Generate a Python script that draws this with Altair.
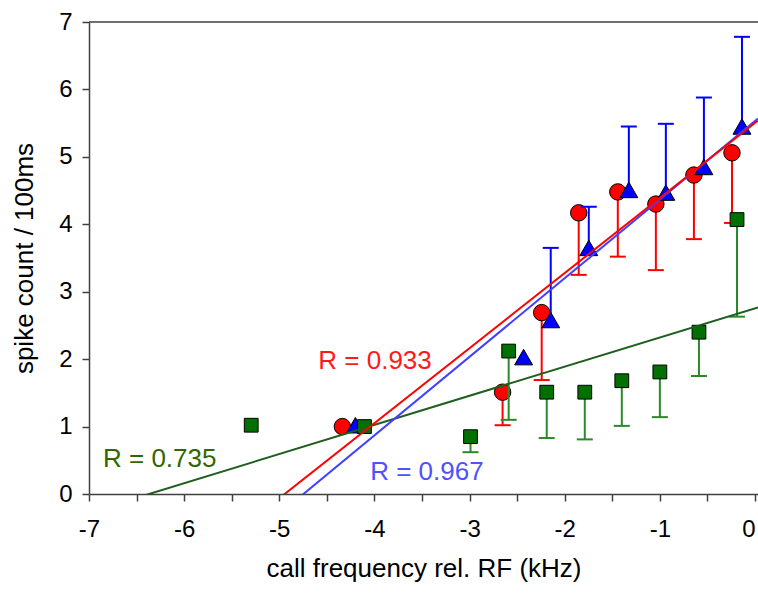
import altair as alt
import pandas as pd

# ---- data ----
red_x = [-4.337, -2.653, -2.242, -1.853, -1.442, -1.042, -0.642, -0.242]
red_y = [1.00, 1.51, 2.69, 4.17, 4.48, 4.30, 4.73, 5.06]
red_err = [None, 1.02, 1.69, 3.25, 3.52, 3.32, 3.78, 4.02]

blue_x = [-4.200, -2.432, -2.147, -1.747, -1.326, -0.937, -0.537, -0.137]
blue_y = [1.02, 2.03, 2.58, 3.65, 4.51, 4.47, 4.85, 5.45]
blue_err = [None, None, 3.65, 4.26, 5.45, 5.49, 5.88, 6.78]

green_x = [-5.295, -4.105, -2.990, -2.589, -2.189, -1.789, -1.400, -1.000, -0.589, -0.189]
green_y = [1.02, 1.00, 0.85, 2.12, 1.51, 1.51, 1.68, 1.81, 2.40, 4.07]
green_err = [None, None, 0.62, 1.10, 0.83, 0.81, 1.01, 1.14, 1.75, 2.63]

ann_text = ["R = 0.933", "R = 0.967", "R = 0.735"]
ann_x = [-4.59, -4.045, -6.853]
ann_y = [1.854, 0.208, 0.40]
ann_color = ["#ff1a1a", "#5050ff", "#336600"]

x_tick_values = [-7, -6.5, -6, -5.5, -5, -4.5, -4, -3.5, -3, -2.5, -2, -1.5, -1, -0.5, 0]
y_tick_values = [0, 1, 2, 3, 4, 5, 6, 7]
X_MIN, X_MAX = -7, 0.0315
Y_MIN, Y_MAX = 0, 7

W, H = 669, 472
FONT = "Liberation Sans"

xscale = alt.Scale(domain=[X_MIN, X_MAX], nice=False, zero=False)
yscale = alt.Scale(domain=[Y_MIN, Y_MAX], nice=False, zero=False)

xaxis = alt.Axis(values=x_tick_values,
                 labelExpr="datum.value % 1 == 0 ? toString(datum.value) : ''",
                 labelAlign=alt.ExprRef("datum.value == 0 ? 'right' : 'center'"),
                 labelFlush=False, labelOverlap=False, labelPadding=16,
                 titlePadding=14, grid=False)
yaxis = alt.Axis(values=y_tick_values, labelPadding=10, titlePadding=21, grid=False)

XT = "call frequency rel. RF (kHz)"
YT = "spike count / 100ms"


def X(field="x"):
    return alt.X(f"{field}:Q", scale=xscale, axis=xaxis, title=XT)


def Y(field="y"):
    return alt.Y(f"{field}:Q", scale=yscale, axis=yaxis, title=YT)


def series_layers(xs, ys, errs, bar_color, pt_fill, shape, size):
    df = pd.DataFrame({"x": xs, "y": ys, "err": errs})
    base = alt.Chart(df)
    bars = base.transform_filter("isValid(datum.err)").mark_rule(
        color=bar_color, strokeWidth=2).encode(x=X(), y=Y(), y2="err:Q")
    caps = base.transform_filter("isValid(datum.err)").mark_tick(
        orient="horizontal", size=16, thickness=2, color=bar_color, opacity=1
    ).encode(x=X(), y=Y("err"))
    pts = base.mark_point(shape=shape, filled=True, fill=pt_fill, stroke="black",
                          strokeWidth=1, size=size, opacity=1).encode(x=X(), y=Y())
    return [bars, caps, pts], df


red_layers, red_df = series_layers(red_x, red_y, red_err, "#ff0000", "#ff0000", "circle", 270)
blue_layers, blue_df = series_layers(blue_x, blue_y, blue_err, "#0000ff", "#0000ff", "triangle-up", 320)
green_layers, green_df = series_layers(green_x, green_y, green_err, "#2a8a2a", "#007000", "square", 190)


def reg_line(df, color):
    return alt.Chart(df).transform_regression(
        "x", "y", extent=[X_MIN, X_MAX]
    ).mark_line(clip=True, color=color, strokeWidth=2).encode(x=X(), y=Y())


ann_df = pd.DataFrame({"x": ann_x, "y": ann_y, "t": ann_text, "c": ann_color})
ann = alt.Chart(ann_df).mark_text(align="left", baseline="alphabetic", font=FONT,
                                  fontSize=26).encode(
    x=X(), y=Y(), text="t:N", color=alt.Color("c:N", scale=None))

top = alt.Chart(pd.DataFrame({"y": [Y_MAX]})).mark_rule(
    color="#404040", strokeWidth=1.5).encode(y=Y(), x=alt.value(0), x2=alt.value(W))

chart = alt.layer(
    *red_layers, *blue_layers, *green_layers,
    reg_line(green_df, "#1e5e1e"), reg_line(blue_df, "#4040ff"), reg_line(red_df, "#ff0000"),
    ann, top
).properties(
    width=W, height=H,
    autosize=alt.AutoSizeParams(type="none"),
    padding={"left": 89, "top": 22, "right": 0, "bottom": 99},
).configure_view(stroke=None).configure_axis(
    domainColor="#404040", domainWidth=1.5, tickColor="#404040", tickWidth=1.5,
    tickSize=7, labelFont=FONT, labelFontSize=24, labelColor="#000000",
    titleFont=FONT, titleFontSize=26, titleFontWeight="normal", titleColor="#000000",
)

chart.save("out.html", embed_options={"renderer": "svg", "actions": False})
